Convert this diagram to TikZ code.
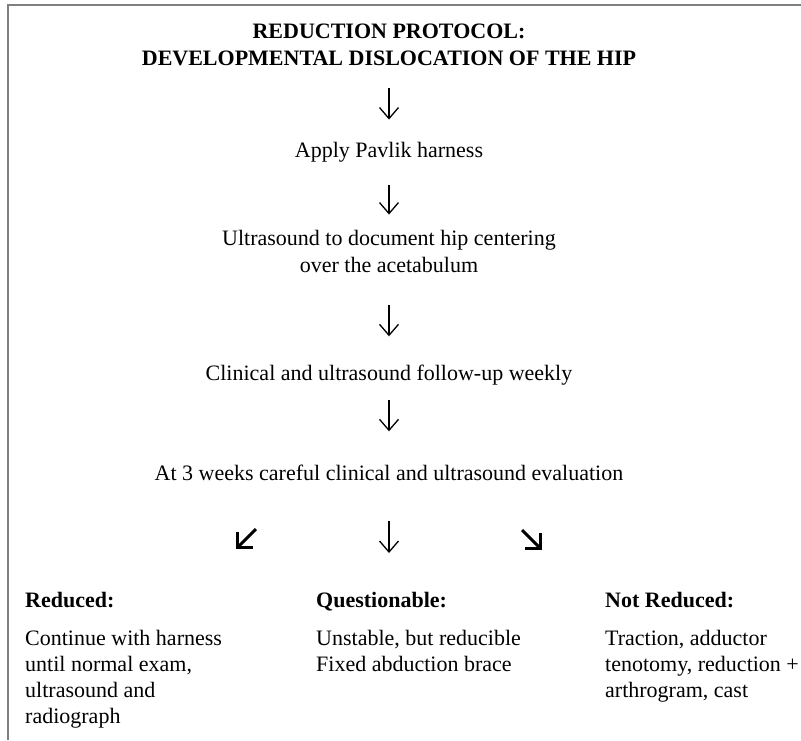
\documentclass[tikz,border=0pt]{standalone}
\usepackage{fontspec}
\setmainfont{Liberation Serif}
\usetikzlibrary{arrows.meta}

\begin{document}
\begin{tikzpicture}[x=1pt,y=-1pt]
    \tikzstyle{arrow} = [line width=1.3pt,-{Straight Barb[length=11pt,width=19pt]}]
    \tikzstyle{bigarrow} = [line width=3pt,-{Straight Barb[length=11pt,width=22pt]}]
    \tikzstyle{txt} = [inner sep=0pt,font=\fontsize{22}{27}\selectfont]
    \tikzstyle{head} = [inner sep=0pt,font=\fontsize{22}{27}\selectfont\bfseries]
    \tikzstyle{col} = [inner sep=0pt,align=left,anchor=base west,font=\fontsize{22}{26}\selectfont]

    \useasboundingbox (0,0) rectangle (801,740);
    \draw [gray,line width=1.5pt] (8,740) -- (8,5) -- (801,5);

    % main line (base = last line)
    \node[head,align=center,anchor=base] (title) at (389,65) {REDUCTION PROTOCOL:\\DEVELOPMENTAL DISLOCATION OF THE HIP};
    \node[txt,anchor=base] (harness) at (389,157) {Apply Pavlik harness};
    \node[txt,align=center,anchor=base] (ultra) at (389,272) {Ultrasound to document hip centering\\over the acetabulum};
    \node[txt,anchor=base] (followup) at (389,380) {Clinical and ultrasound follow-up weekly};
    \node[txt,anchor=base] (eval) at (389,480) {At 3 weeks careful clinical and ultrasound evaluation};

    % outcomes
    \node[head,anchor=base west] (reduced) at (25,607) {Reduced:};
    \node[col] (reducedtxt) at (25,723) {Continue with harness\\until normal exam,\\ultrasound and\\radiograph};
    \node[head,anchor=base west] (quest) at (316,607) {Questionable:};
    \node[col] (questtxt) at (316,671) {Unstable, but reducible\\Fixed abduction brace};
    \node[head,anchor=base west] (notred) at (605,607) {Not Reduced:};
    \node[col] (notredtxt) at (605,697) {Traction, adductor\\tenotomy, reduction +\\arthrogram, cast};

    \draw [arrow] ([yshift=-22pt]title.south) -- ([yshift=22pt]harness.north);
    \draw [arrow] ([yshift=-23pt]harness.south) -- ([yshift=15pt]ultra.north);
    \draw [arrow] ([yshift=-33pt]ultra.south) -- ([yshift=28pt]followup.north);
    \draw [arrow] ([yshift=-15pt]followup.south) -- ([yshift=33pt]eval.north);

    \draw [bigarrow] ([shift={(-133,49)}]eval.base) -- ([shift={(-153,69)}]eval.base);
    \draw [arrow] ([shift={(0,41)}]eval.base) -- ([shift={(0,73)}]eval.base);
    \draw [bigarrow] ([shift={(133,50)}]eval.base) -- ([shift={(153,70)}]eval.base);
\end{tikzpicture}
\end{document}
